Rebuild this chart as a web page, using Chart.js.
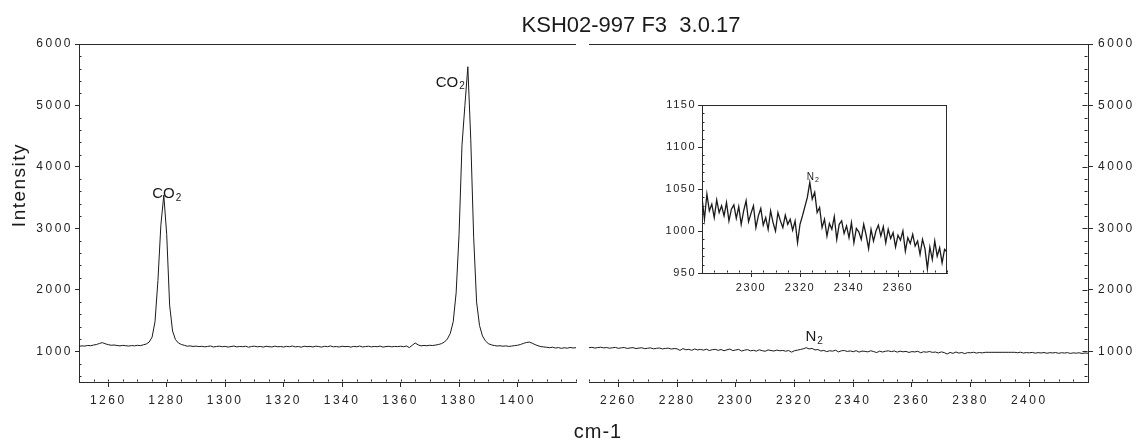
<!DOCTYPE html>
<html>
<head>
<meta charset="utf-8">
<script src="https://cdn.jsdelivr.net/npm/chart.js@4.4.1/dist/chart.umd.min.js"></script>
<style>
  body { margin: 0; background: #fff; }
  #wrap { position: relative; width: 1136px; height: 443px; overflow: hidden; background: #fff; }
  canvas { position: absolute; }
  .txt { position: absolute; font-family: "Liberation Sans", Arial, sans-serif; color: #1a1a1a; white-space: pre; }
  #title { left: 431px; top: 14px; width: 400px; text-align: center; font-size: 22px; line-height: 22px; }
  #ylab { left: -41px; top: 173px; width: 120px; height: 24px; line-height: 24px; text-align: center;
          font-size: 19px; letter-spacing: 1.5px; transform: rotate(-90deg); }
  #xlab { left: 548px; top: 420px; width: 100px; text-align: center; font-size: 20px; line-height: 22px; letter-spacing: 1px; }
</style>
</head>
<body>
<div id="wrap">
  <canvas id="leftChart" width="583" height="443" style="left:0;top:0"></canvas>
  <canvas id="rightChart" width="553" height="443" style="left:583px;top:0"></canvas>
  <canvas id="insetChart" width="310" height="205" style="left:650px;top:95px"></canvas>
  <div class="txt" id="title">KSH02-997 F3  3.0.17</div>
  <div class="txt" id="ylab">Intensity</div>
  <div class="txt" id="xlab">cm-1</div>
</div>
<script>
// spectrum, 1 cm-1 steps
const leftStart = 1250;
const leftIntensity = [
    1080, 1088, 1084, 1095, 1090, 1102, 1110, 1128, 1140, 1122,
    1108, 1098, 1102, 1094, 1088, 1096, 1090, 1085, 1093, 1088,
    1097, 1092, 1105, 1118, 1150, 1230, 1480, 2150, 3050, 3540,
    2900, 1750, 1330, 1190, 1135, 1110, 1098, 1082, 1088, 1078,
    1084, 1076, 1081, 1072, 1079, 1086, 1070, 1078, 1083, 1074,
    1080, 1068, 1077, 1085, 1071, 1079, 1074, 1082, 1066, 1078,
    1083, 1072, 1079, 1068, 1081, 1075, 1070, 1084, 1073, 1077,
    1069, 1080, 1074, 1086, 1071, 1078, 1066, 1082, 1075, 1079,
    1070, 1083, 1076, 1068, 1081, 1074, 1087, 1072, 1078, 1069,
    1082, 1075, 1079, 1067, 1080, 1073, 1085, 1070, 1077, 1082,
    1071, 1079, 1074, 1084, 1068, 1077, 1081, 1072, 1079, 1075,
    1082, 1074, 1086, 1060, 1098, 1135, 1104, 1088, 1095, 1090,
    1098, 1093, 1102, 1110, 1125, 1150, 1200, 1290, 1480, 1950,
    2900, 4350, 5000, 5630, 4450, 2850, 1800, 1420, 1250, 1170,
    1125, 1105, 1094, 1086, 1090, 1082, 1088, 1079, 1085, 1092,
    1098, 1110, 1128, 1142, 1150, 1132, 1108, 1090, 1076, 1070,
    1065, 1058, 1066, 1052, 1060, 1048, 1057, 1050, 1062, 1054, 1058
];
const rightStart = 2250;
const rightIntensity = [
    1058, 1064, 1052, 1060, 1066, 1055, 1061, 1050, 1057, 1063,
    1048, 1056, 1061, 1046, 1054, 1059, 1044, 1052, 1057, 1042,
    1050, 1055, 1040, 1048, 1053, 1038, 1046, 1051, 1036, 1044,
    1040, 1014, 1044, 1024, 1032, 1016, 1037, 1022, 1030, 1018,
    1034, 1012, 1026, 1031, 1015, 1029, 1008, 1024, 1036, 1011,
    1021, 1030, 1004, 1018, 1027, 1007, 1016, 1002, 1024, 1010,
    1000, 1022, 1012, 1004, 1019, 1008, 1014, 1001, 1012, 986,
    1008, 1018, 1029, 1040, 1058, 1038, 1046, 1022, 1028, 1004,
    1014, 994, 1009, 1002, 1017, 990, 1008, 1012, 997, 1006,
    992, 1010, 986, 1003, 999, 990, 1008, 995, 979, 1002,
    988, 1000, 1007, 994, 1005, 986, 1002, 991, 998, 981,
    995, 989, 1000, 976, 992, 985, 996, 982, 988, 972,
    990, 979, 955, 981, 966, 988, 970, 980, 962, 978,
    975, 984, 970, 980, 974, 983, 983, 983, 983, 983,
    983, 983, 983, 983, 983, 983, 976, 985, 971, 979,
    974, 982, 969, 978, 972, 980, 968, 977, 973, 979,
    967, 976, 971, 978, 965, 974, 969, 976, 964, 972, 968
];

const leftTicks = [1260, 1280, 1300, 1320, 1340, 1360, 1380, 1400];
const rightTicks = [2260, 2280, 2300, 2320, 2340, 2360, 2380, 2400];
const yTicks = [1000, 2000, 3000, 4000, 5000, 6000];
const insetXTicks = [2300, 2320, 2340, 2360];
const insetYTicks = [950, 1000, 1050, 1100, 1150];

const leftPeaks = [{ at: 1279, name: 'CO', sub: '2' }, { at: 1383, name: 'CO', sub: '2' }];
const rightPeaks = [{ at: 2325, name: 'N', sub: '2' }];
const insetPeaks = [{ at: 2324, name: 'N', sub: '2' }];

const FONT = '"Liberation Sans", Arial, sans-serif';
const INK = '#1a1a1a';
const AXIS = '#2a2a2a';
Chart.defaults.font.family = FONT;
Chart.defaults.color = '#222';

const points = (start, vals) => vals.map((v, i) => ({ x: start + i, y: v }));

// top border, inner tick marks, peak names
const decor = {
    id: 'decor',
    beforeLayout(chart, args, o) { chart.ctx.letterSpacing = o.spacing || '0px'; },
    beforeDraw(chart, args, o) { chart.ctx.letterSpacing = o.spacing || '0px'; },
    afterDraw(chart, args, o) {
        const ctx = chart.ctx, a = chart.chartArea;
        ctx.save();
        ctx.strokeStyle = AXIS;
        ctx.lineWidth = 1;
        const seg = (x1, y1, x2, y2) => { ctx.beginPath(); ctx.moveTo(x1, y1); ctx.lineTo(x2, y2); ctx.stroke(); };
        const L = Math.round(a.left) + 0.5, R = Math.round(a.right) - 0.5;
        const T = Math.round(a.top) + 0.5, B = Math.round(a.bottom) - 0.5;
        if (o.top) seg(a.left, T, a.right, T);
        if (o.box) { seg(a.left, T, a.right, T); seg(R, a.top, R, a.bottom); }
        (o.marks || []).forEach(m => {
            const sc = chart.scales[m.scale];
            const majors = sc.ticks.map(t => t.value);
            for (let v = Math.ceil(sc.min / m.step) * m.step; v <= sc.max; v += m.step) {
                const len = majors.includes(v) ? m.major : m.minor;
                if (!len) continue;
                const p = Math.round(sc.getPixelForValue(v)) + 0.5;
                if (sc.axis === 'x') seg(p, B, p, B - len);
                else if (sc.position === 'left') seg(L, p, L + len, p);
                else seg(R, p, R - len, p);
            }
        });
        const lab = o.labels;
        if (lab) {
            const data = chart.data.datasets[0].data;
            ctx.fillStyle = INK;
            ctx.textBaseline = 'alphabetic';
            ctx.textAlign = 'left';
            ctx.letterSpacing = '0px';
            lab.peaks.forEach((pk, i) => {
                const pl = lab.place[i];
                const pt = data.find(d => d.x === pk.at);
                const px = chart.scales.x.getPixelForValue(pk.at);
                const py = chart.scales.y.getPixelForValue(pt.y);
                ctx.font = lab.size + 'px ' + FONT;
                const w1 = ctx.measureText(pk.name).width;
                const subSize = Math.round(lab.size * 0.68);
                ctx.font = subSize + 'px ' + FONT;
                const w2 = ctx.measureText(pk.sub).width;
                const w = w1 + 1 + w2;
                let x0 = pl.align === 'right' ? px + pl.dx - w : px + pl.dx - w / 2;
                const base = py + pl.dy;
                ctx.font = lab.size + 'px ' + FONT;
                ctx.fillText(pk.name, x0, base);
                ctx.font = subSize + 'px ' + FONT;
                ctx.fillText(pk.sub, x0 + w1 + 1, base + lab.size * 0.18);
            });
        }
        ctx.restore();
    }
};

const plain = v => String(v);

function xScale(min, max, ticks, size, tl, pad, h) {
    return {
        type: 'linear', min: min, max: max,
        afterBuildTicks: s => { s.ticks = ticks.map(v => ({ value: v })); },
        afterFit: s => { s.height = h; },
        grid: { drawOnChartArea: false, drawTicks: true, tickLength: tl, color: AXIS },
        border: { display: true, color: AXIS },
        ticks: { autoSkip: false, maxRotation: 0, padding: pad, color: '#222', font: { size: size }, callback: plain }
    };
}
function yScale(pos, min, max, ticks, size, tl, pad, w) {
    return {
        type: 'linear', position: pos, min: min, max: max,
        afterBuildTicks: s => { s.ticks = ticks.map(v => ({ value: v })); },
        afterFit: s => { s.width = w; },
        grid: { drawOnChartArea: false, drawTicks: true, tickLength: tl, color: AXIS },
        border: { display: true, color: AXIS },
        ticks: { autoSkip: false, padding: pad, color: '#222', font: { size: size }, callback: plain }
    };
}
function lineSet(start, vals, width) {
    return {
        data: points(start, vals),
        borderColor: INK, borderWidth: width,
        pointRadius: 0, tension: 0, fill: false
    };
}
const common = {
    responsive: false, devicePixelRatio: 1, animation: false,
    parsing: false, normalized: true,
    events: []
};

new Chart(document.querySelector('#leftChart'), {
    type: 'line',
    data: { datasets: [lineSet(leftStart, leftIntensity, 1)] },
    options: Object.assign({}, common, {
        layout: { padding: { top: 44, right: 7, bottom: 0, left: 0 } },
        scales: {
            x: xScale(1250, 1420, leftTicks, 12, 5, 6, 61),
            y: yScale('left', 500, 6000, yTicks, 12, 4, 2, 79)
        },
        plugins: {
            legend: { display: false }, tooltip: { enabled: false },
            decor: {
                spacing: '2.5px', top: true,
                marks: [{ scale: 'x', step: 5, minor: 2, major: 2 }, { scale: 'y', step: 200, minor: 2, major: 0 }],
                labels: {
                    peaks: leftPeaks, size: 15,
                    place: [{ align: 'center', dx: 3, dy: 3 }, { align: 'right', dx: -3, dy: 20 }]
                }
            }
        }
    }),
    plugins: [decor]
});

new Chart(document.querySelector('#rightChart'), {
    type: 'line',
    data: { datasets: [lineSet(rightStart, rightIntensity, 1)] },
    options: Object.assign({}, common, {
        layout: { padding: { top: 44, right: 0, bottom: 0, left: 6 } },
        scales: {
            x: xScale(2250, 2420, rightTicks, 12, 5, 6, 61),
            y: yScale('right', 500, 6000, yTicks, 12, 5, 5, 48)
        },
        plugins: {
            legend: { display: false }, tooltip: { enabled: false },
            decor: {
                spacing: '2.5px', top: true,
                marks: [{ scale: 'x', step: 5, minor: 2, major: 2 }, { scale: 'y', step: 200, minor: 3, major: 5 }],
                labels: {
                    peaks: rightPeaks, size: 15,
                    place: [{ align: 'center', dx: 5, dy: -8 }]
                }
            }
        }
    }),
    plugins: [decor]
});

new Chart(document.querySelector('#insetChart'), {
    type: 'line',
    data: { datasets: [lineSet(rightStart, rightIntensity, 1.3)] },
    options: Object.assign({}, common, {
        layout: { padding: { top: 10, right: 13, bottom: 0, left: 0 } },
        scales: {
            x: xScale(2280, 2380, insetXTicks, 11, 4, 4, 27),
            y: yScale('left', 950, 1150, insetYTicks, 11, 4, 2, 52)
        },
        plugins: {
            legend: { display: false }, tooltip: { enabled: false },
            decor: {
                spacing: '1.5px', box: true,
                marks: [{ scale: 'x', step: 5, minor: 2, major: 2 }, { scale: 'y', step: 10, minor: 2, major: 0 }],
                labels: {
                    peaks: insetPeaks, size: 10,
                    place: [{ align: 'center', dx: 3, dy: -2 }]
                }
            }
        }
    }),
    plugins: [decor]
});
</script>
</body>
</html>
